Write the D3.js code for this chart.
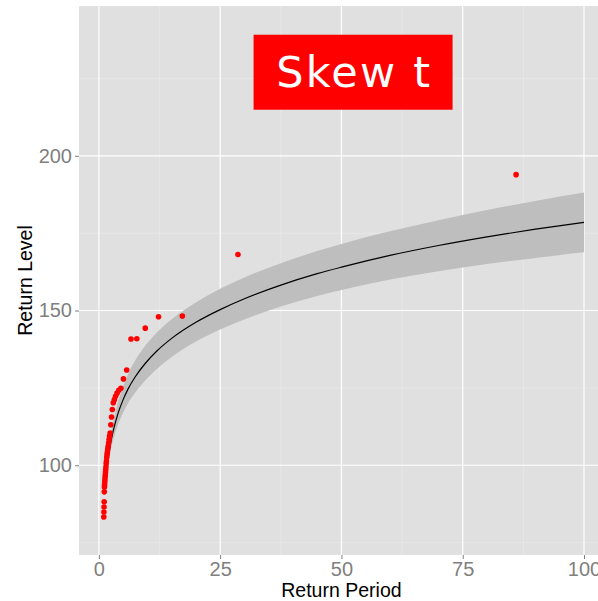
<!DOCTYPE html>
<html>
<head>
<meta charset="utf-8">
<script src="https://cdn.jsdelivr.net/npm/d3@7"></script>
<style>
  html, body { margin: 0; padding: 0; background: #ffffff; }
  svg { display: block; }
</style>
</head>
<body>
<svg id="chart" width="598" height="601"></svg>
<script>
// Observed return levels (Hazen plotting positions, n = 43)
const obsPeriod = [86, 28.67, 17.2, 12.29, 9.56, 7.82, 6.62, 5.73, 5.06, 4.53,
  4.10, 3.74, 3.44, 3.19, 2.97, 2.77, 2.61, 2.46, 2.32, 2.21,
  2.10, 2.00, 1.91, 1.83, 1.755, 1.686, 1.623, 1.564, 1.509, 1.458,
  1.410, 1.365, 1.323, 1.284, 1.246, 1.211, 1.178, 1.147, 1.118, 1.090,
  1.062, 1.036, 1.012];
const obsLevel = [193.9, 168.1, 148.2, 148.0, 144.3, 140.9, 140.8, 130.8, 127.9, 124.9,
  124.2, 123.3, 122.3, 121.2, 120.2, 118.0, 115.6, 113.1, 110.4, 109.4,
  108.3, 107.2, 106.1, 105.2, 104.3, 103.5, 102.6, 101.4, 100.6, 99.5,
  98.6, 97.8, 96.9, 96.2, 95.3, 94.6, 93.7, 93.0, 91.4, 88.2,
  86.5, 84.9, 83.3];

// Fitted skew-t return level curve with confidence band
const fitPeriod = [2, 2.5, 3, 4, 5, 6, 7.5, 9.5, 12, 15, 20, 25, 30, 37.5, 45, 50, 60, 70, 80, 90, 100];
const fitLevel  = [103.3, 107.8, 111.4, 117.0, 121.2, 124.6, 128.6, 132.8, 137.0, 141.0, 146.2,
  150.3, 153.8, 158.2, 161.9, 164.0, 167.8, 171.0, 173.8, 176.3, 178.5];
const fitUpper  = [105.1, 110.3, 114.4, 120.7, 125.5, 129.4, 133.9, 138.5, 143.0, 147.2, 152.6,
  157.0, 160.7, 165.3, 169.2, 171.5, 175.6, 179.2, 182.5, 185.4, 188.1];
const fitLower  = [101.5, 105.4, 108.5, 113.4, 117.0, 120.0, 123.5, 127.3, 131.2, 135.0, 140.0,
  143.9, 147.1, 151.3, 154.7, 156.6, 160.0, 162.7, 165.0, 167.0, 168.8];

const xTicks = [0, 25, 50, 75, 100];
const xMinor = [12.5, 37.5, 62.5, 87.5];
const yTicks = [100, 150, 200];
const yMinor = [75, 125, 175, 225];

const titleText = "Skew t";
const titlePos = [52.4, 227];

const svg = d3.select("#chart");
const panel = { left: 79, top: 6, right: 608, bottom: 555 };

const x = d3.scaleLinear().domain([-4.1, 104.95]).range([panel.left, panel.right]);
const y = d3.scaleLinear().domain([71, 248.4]).range([panel.bottom, panel.top]);

// panel background
svg.append("rect")
  .attr("x", panel.left).attr("y", panel.top)
  .attr("width", panel.right - panel.left).attr("height", panel.bottom - panel.top)
  .attr("fill", "#E0E0E0");

const grid = svg.append("g");
grid.selectAll("line.xminor").data(xMinor).join("line")
  .attr("x1", d => x(d)).attr("x2", d => x(d))
  .attr("y1", panel.top).attr("y2", panel.bottom)
  .attr("stroke", "#EBEBEB").attr("stroke-width", 0.6);
grid.selectAll("line.yminor").data(yMinor).join("line")
  .attr("y1", d => y(d)).attr("y2", d => y(d))
  .attr("x1", panel.left).attr("x2", panel.right)
  .attr("stroke", "#EBEBEB").attr("stroke-width", 0.6);
grid.selectAll("line.xmajor").data(xTicks).join("line")
  .attr("x1", d => x(d)).attr("x2", d => x(d))
  .attr("y1", panel.top).attr("y2", panel.bottom)
  .attr("stroke", "#FFFFFF").attr("stroke-width", 1.2);
grid.selectAll("line.ymajor").data(yTicks).join("line")
  .attr("y1", d => y(d)).attr("y2", d => y(d))
  .attr("x1", panel.left).attr("x2", panel.right)
  .attr("stroke", "#FFFFFF").attr("stroke-width", 1.2);

// title label
const tg = svg.append("g");
tg.append("rect")
  .attr("x", x(titlePos[0]) - 99.5).attr("y", y(titlePos[1]) - 37.5)
  .attr("width", 199).attr("height", 75)
  .attr("fill", "#FF0000");
tg.append("text")
  .attr("x", x(titlePos[0]) + 1.1).attr("y", y(titlePos[1]))
  .attr("dy", "0.35em")
  .attr("text-anchor", "middle")
  .attr("font-family", "DejaVu Sans")
  .attr("font-size", 43)
  .attr("letter-spacing", 2.2)
  .attr("fill", "#FFFFFF")
  .text(titleText);

// confidence band
const fit = fitPeriod.map((p, i) => ({ p, v: fitLevel[i], lo: fitLower[i], hi: fitUpper[i] }));
svg.append("path")
  .datum(fit)
  .attr("d", d3.area().curve(d3.curveMonotoneX)
    .x(d => x(d.p)).y0(d => y(d.lo)).y1(d => y(d.hi)))
  .attr("fill", "#BEBEBE");

svg.append("path")
  .datum(fit)
  .attr("d", d3.line().curve(d3.curveMonotoneX).x(d => x(d.p)).y(d => y(d.v)))
  .attr("fill", "none")
  .attr("stroke", "#000000")
  .attr("stroke-width", 1.2);

// observed points
svg.append("g").selectAll("circle")
  .data(obsPeriod.map((p, i) => ({ p, v: obsLevel[i] })))
  .join("circle")
  .attr("cx", d => x(d.p)).attr("cy", d => y(d.v))
  .attr("r", 2.8)
  .attr("fill", "#FF0000");

// axes
const xAxis = svg.append("g")
  .attr("transform", `translate(0,${panel.bottom})`)
  .call(d3.axisBottom(x).tickValues(xTicks).tickSize(4).tickPadding(3));
const yAxis = svg.append("g")
  .attr("transform", `translate(${panel.left},0)`)
  .call(d3.axisLeft(y).tickValues(yTicks).tickSize(4).tickPadding(3));
[xAxis, yAxis].forEach(a => {
  a.select(".domain").remove();
  a.selectAll(".tick line").attr("stroke", "#7F7F7F");
  a.selectAll(".tick text")
    .attr("fill", "#7F7F7F")
    .attr("font-family", "Liberation Sans, Arial, sans-serif")
    .attr("font-size", 20);
});

// axis titles
svg.append("text")
  .attr("x", x(50)).attr("y", 597)
  .attr("text-anchor", "middle")
  .attr("font-family", "Liberation Sans, Arial, sans-serif")
  .attr("font-size", 19.5)
  .attr("fill", "#000000")
  .text("Return Period");
svg.append("text")
  .attr("transform", `translate(32,${(panel.top + panel.bottom) / 2}) rotate(-90)`)
  .attr("text-anchor", "middle")
  .attr("font-family", "Liberation Sans, Arial, sans-serif")
  .attr("font-size", 19.5)
  .attr("fill", "#000000")
  .text("Return Level");
</script>
</body>
</html>
